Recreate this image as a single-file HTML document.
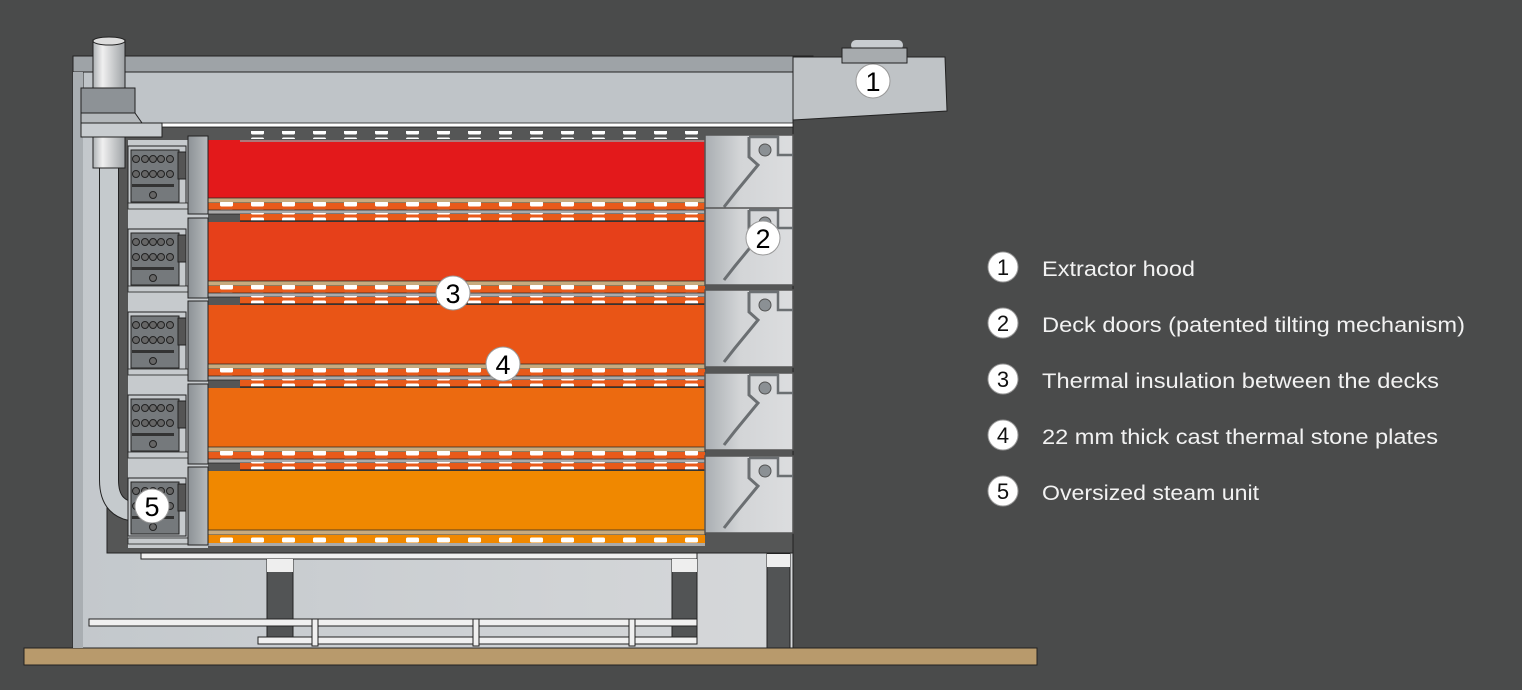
<!DOCTYPE html>
<html><head><meta charset="utf-8"><style>
html,body{margin:0;padding:0;background:#4a4b4b;}
svg{display:block}
text{font-family:"Liberation Sans",sans-serif;}
</style></head><body>
<svg width="1522" height="690" viewBox="0 0 1522 690" xmlns="http://www.w3.org/2000/svg">
<defs>
<linearGradient id="body" x1="0" x2="1"><stop offset="0" stop-color="#c3c8cc"/><stop offset="1" stop-color="#d6d8da"/></linearGradient>
<linearGradient id="pipe" x1="0" x2="1"><stop offset="0" stop-color="#aeb2b5"/><stop offset=".3" stop-color="#f0f0f0"/><stop offset="1" stop-color="#9ea2a5"/></linearGradient>
<linearGradient id="plate" x1="0" x2="1"><stop offset="0" stop-color="#8d9296"/><stop offset="1" stop-color="#b6babd"/></linearGradient>
<linearGradient id="door" x1="0" x2="1"><stop offset="0" stop-color="#a9aeb2"/><stop offset=".4" stop-color="#d3d5d7"/><stop offset="1" stop-color="#dcdddf"/></linearGradient>
<pattern id="dash" x="0" y="0" width="31" height="8" patternUnits="userSpaceOnUse"><rect x="3" y="1.5" width="13" height="5" rx="1.5" fill="#fff"/></pattern>
<g id="unit">
<rect x="128" y="0" width="58" height="58" fill="#c6cacd" stroke="#222" stroke-width="1"/>
<rect x="131" y="4" width="48" height="52" fill="#75797c" stroke="#222"/>
<g fill="#666" stroke="#222" stroke-width="1">
<circle cx="136" cy="13" r="3.5"/><circle cx="145" cy="13" r="3.5"/><circle cx="153" cy="13" r="3.5"/><circle cx="161" cy="13" r="3.5"/><circle cx="170" cy="13" r="3.5"/>
<circle cx="136" cy="28" r="3.5"/><circle cx="145" cy="28" r="3.5"/><circle cx="153" cy="28" r="3.5"/><circle cx="161" cy="28" r="3.5"/><circle cx="170" cy="28" r="3.5"/>
</g>
<rect x="132" y="38" width="42" height="3" fill="#333"/>
<circle cx="153" cy="49" r="3.5" fill="#666" stroke="#222"/>
<rect x="178" y="6" width="8" height="27" fill="#555" stroke="#222"/>
</g>
<g id="doorseg">
<rect x="705" y="0" width="88" height="77" fill="url(#door)" stroke="#555" stroke-width="1.5"/>
<path d="M749,2 L749,22 L758,30 L735,58 L724,72" fill="none" stroke="#6b6f72" stroke-width="3"/>
<path d="M749,2 L778,2 L778,20 L793,20" fill="none" stroke="#6b6f72" stroke-width="2.5"/>
<circle cx="765" cy="15" r="6" fill="#8b9094" stroke="#555"/>
</g>
</defs>
<rect width="1522" height="690" fill="#4a4b4b"/>
<rect x="24" y="648" width="1013" height="17" fill="#b89a6c" stroke="#222" stroke-width="1"/>
<rect x="73" y="56" width="720" height="592" fill="url(#body)" stroke="#222" stroke-width="1"/>
<rect x="73" y="56" width="740" height="16" fill="#9ea3a7" stroke="#222" stroke-width="1"/>
<rect x="83" y="72" width="710" height="52" fill="#bfc4c8" stroke="#222" stroke-width="1"/>
<rect x="73" y="72" width="10" height="576" fill="#a9aeb2"/>
<polygon points="793,57 945,57 947,111 793,120" fill="#bfc3c6" stroke="#222"/>
<rect x="851" y="40" width="52" height="10" rx="5" fill="#c8ccd0"/>
<rect x="842" y="48" width="65" height="15" fill="#a7abae" stroke="#222"/>
<rect x="107" y="127" width="686" height="426" fill="#555656" stroke="#222"/>
<rect x="93" y="123" width="700" height="4" fill="#fff" stroke="#222" stroke-width=".8"/>
<rect x="120" y="140" width="88" height="408" fill="#c6cacd"/>
<rect x="120" y="140" width="8" height="408" fill="#555"/>
<path d="M109,165 L109,480 Q109,512 140,512 L150,512" fill="none" stroke="#222" stroke-width="20"/>
<path d="M109,165 L109,480 Q109,512 140,512 L150,512" fill="none" stroke="#c5cacd" stroke-width="18"/>
<rect x="93" y="40" width="32" height="128" fill="url(#pipe)" stroke="#222"/>
<ellipse cx="109" cy="41" rx="16" ry="4" fill="#ddd" stroke="#222"/>
<rect x="81" y="88" width="54" height="25" fill="#8d9296" stroke="#222"/>
<polygon points="81,113 135,113 142,123 81,123" fill="#b4b8bb" stroke="#222"/>
<rect x="81" y="123" width="81" height="14" fill="#c9cdd0" stroke="#222"/>
<g>
<rect x="208" y="140" width="497" height="58" fill="#e3191b"/>
<rect x="208" y="222" width="497" height="59" fill="#e6401a"/>
<rect x="208" y="305" width="497" height="59" fill="#e95516"/>
<rect x="208" y="388" width="497" height="59" fill="#ec6a10"/>
<rect x="208" y="471" width="497" height="59" fill="#f08800"/>
</g>
<rect x="240" y="131" width="465" height="8" fill="url(#dash)"/>
<line x1="240" y1="141" x2="705" y2="141" stroke="#999" stroke-width="1.5"/>
<g id="band">
<rect x="208" y="198" width="497" height="5" fill="#c7aa7e" stroke="#222" stroke-width=".7"/>
<rect x="208" y="203" width="497" height="7" fill="#e85a1a"/>
<rect x="208" y="202" width="497" height="8" fill="url(#dash)"/>
<rect x="208" y="210" width="497" height="4" fill="#aaa" stroke="#222" stroke-width=".7"/>
<rect x="240" y="214" width="465" height="7" fill="#e85a1a"/>
<rect x="240" y="213" width="465" height="8" fill="url(#dash)"/>
<line x1="240" y1="221" x2="705" y2="221" stroke="#222" stroke-width="1.2"/>
</g>
<use href="#band" y="83"/>
<use href="#band" y="166"/>
<use href="#band" y="249"/>
<rect x="208" y="530" width="497" height="5" fill="#c7aa7e" stroke="#222" stroke-width=".7"/>
<rect x="208" y="535" width="497" height="8" fill="#f08800"/>
<rect x="208" y="535" width="497" height="8" fill="url(#dash)"/>
<rect x="208" y="543" width="497" height="3" fill="#aaa"/>
<use href="#unit" y="146"/><use href="#unit" y="229"/><use href="#unit" y="312"/><use href="#unit" y="395"/><use href="#unit" y="478"/>
<g fill="#c6cacd" stroke="#222" stroke-width=".8">
<rect x="128" y="203" width="60" height="6"/><rect x="128" y="286" width="60" height="6"/><rect x="128" y="369" width="60" height="6"/><rect x="128" y="452" width="60" height="6"/><rect x="128" y="538" width="60" height="6"/>
</g>
<g fill="url(#plate)" stroke="#222">
<rect x="188" y="136" width="20" height="78"/><rect x="188" y="218" width="20" height="80"/><rect x="188" y="301" width="20" height="80"/><rect x="188" y="384" width="20" height="80"/><rect x="188" y="467" width="20" height="78"/>
</g>
<use href="#doorseg" y="135"/><use href="#doorseg" y="208"/><use href="#doorseg" y="290"/><use href="#doorseg" y="373"/><use href="#doorseg" y="456"/>
<rect x="141" y="553" width="556" height="6" fill="#f0f0f0" stroke="#222"/>
<rect x="267" y="559" width="26" height="80" fill="#525455" stroke="#222"/>
<rect x="267" y="559" width="26" height="13" fill="#eee"/>
<rect x="672" y="559" width="25" height="80" fill="#525455" stroke="#222"/>
<rect x="672" y="559" width="25" height="13" fill="#eee"/>
<rect x="767" y="554" width="23" height="94" fill="#525455" stroke="#222"/>
<rect x="767" y="554" width="23" height="13" fill="#eee"/>
<rect x="89" y="619" width="608" height="7" fill="#f0f0f0" stroke="#222"/>
<rect x="258" y="637" width="439" height="7" fill="#f0f0f0" stroke="#222"/>
<g fill="#f0f0f0" stroke="#222"><rect x="312" y="619" width="6" height="27"/><rect x="473" y="619" width="6" height="27"/><rect x="629" y="619" width="6" height="27"/></g>
<g font-size="27" text-anchor="middle">
<circle cx="873" cy="81" r="17" fill="#fff" stroke="#999"/><text x="873" y="91">1</text>
<circle cx="763" cy="238" r="17" fill="#fff" stroke="#999"/><text x="763" y="248">2</text>
<circle cx="453" cy="293" r="17" fill="#fff" stroke="#999"/><text x="453" y="303">3</text>
<circle cx="503" cy="364" r="17" fill="#fff" stroke="#999"/><text x="503" y="374">4</text>
<circle cx="152" cy="506" r="17" fill="#fff" stroke="#999"/><text x="152" y="516">5</text>
</g>
<g text-anchor="middle" fill="#111" font-size="22">
<circle cx="1003" cy="267" r="15" fill="#fff" stroke="#999"/><text x="1003" y="275">1</text>
<circle cx="1003" cy="323" r="15" fill="#fff" stroke="#999"/><text x="1003" y="331">2</text>
<circle cx="1003" cy="379" r="15" fill="#fff" stroke="#999"/><text x="1003" y="387">3</text>
<circle cx="1003" cy="435" r="15" fill="#fff" stroke="#999"/><text x="1003" y="443">4</text>
<circle cx="1003" cy="491" r="15" fill="#fff" stroke="#999"/><text x="1003" y="499">5</text>
</g>
<g font-size="21" fill="#f2f2f2" style="font-family:'DejaVu Sans',sans-serif">
<text x="1042" y="276" textLength="153" lengthAdjust="spacingAndGlyphs">Extractor hood</text>
<text x="1042" y="332" textLength="423" lengthAdjust="spacingAndGlyphs">Deck doors (patented tilting mechanism)</text>
<text x="1042" y="388" textLength="397" lengthAdjust="spacingAndGlyphs">Thermal insulation between the decks</text>
<text x="1042" y="444" textLength="396" lengthAdjust="spacingAndGlyphs">22 mm thick cast thermal stone plates</text>
<text x="1042" y="500" textLength="217" lengthAdjust="spacingAndGlyphs">Oversized steam unit</text>
</g>
</svg>
</body></html>
